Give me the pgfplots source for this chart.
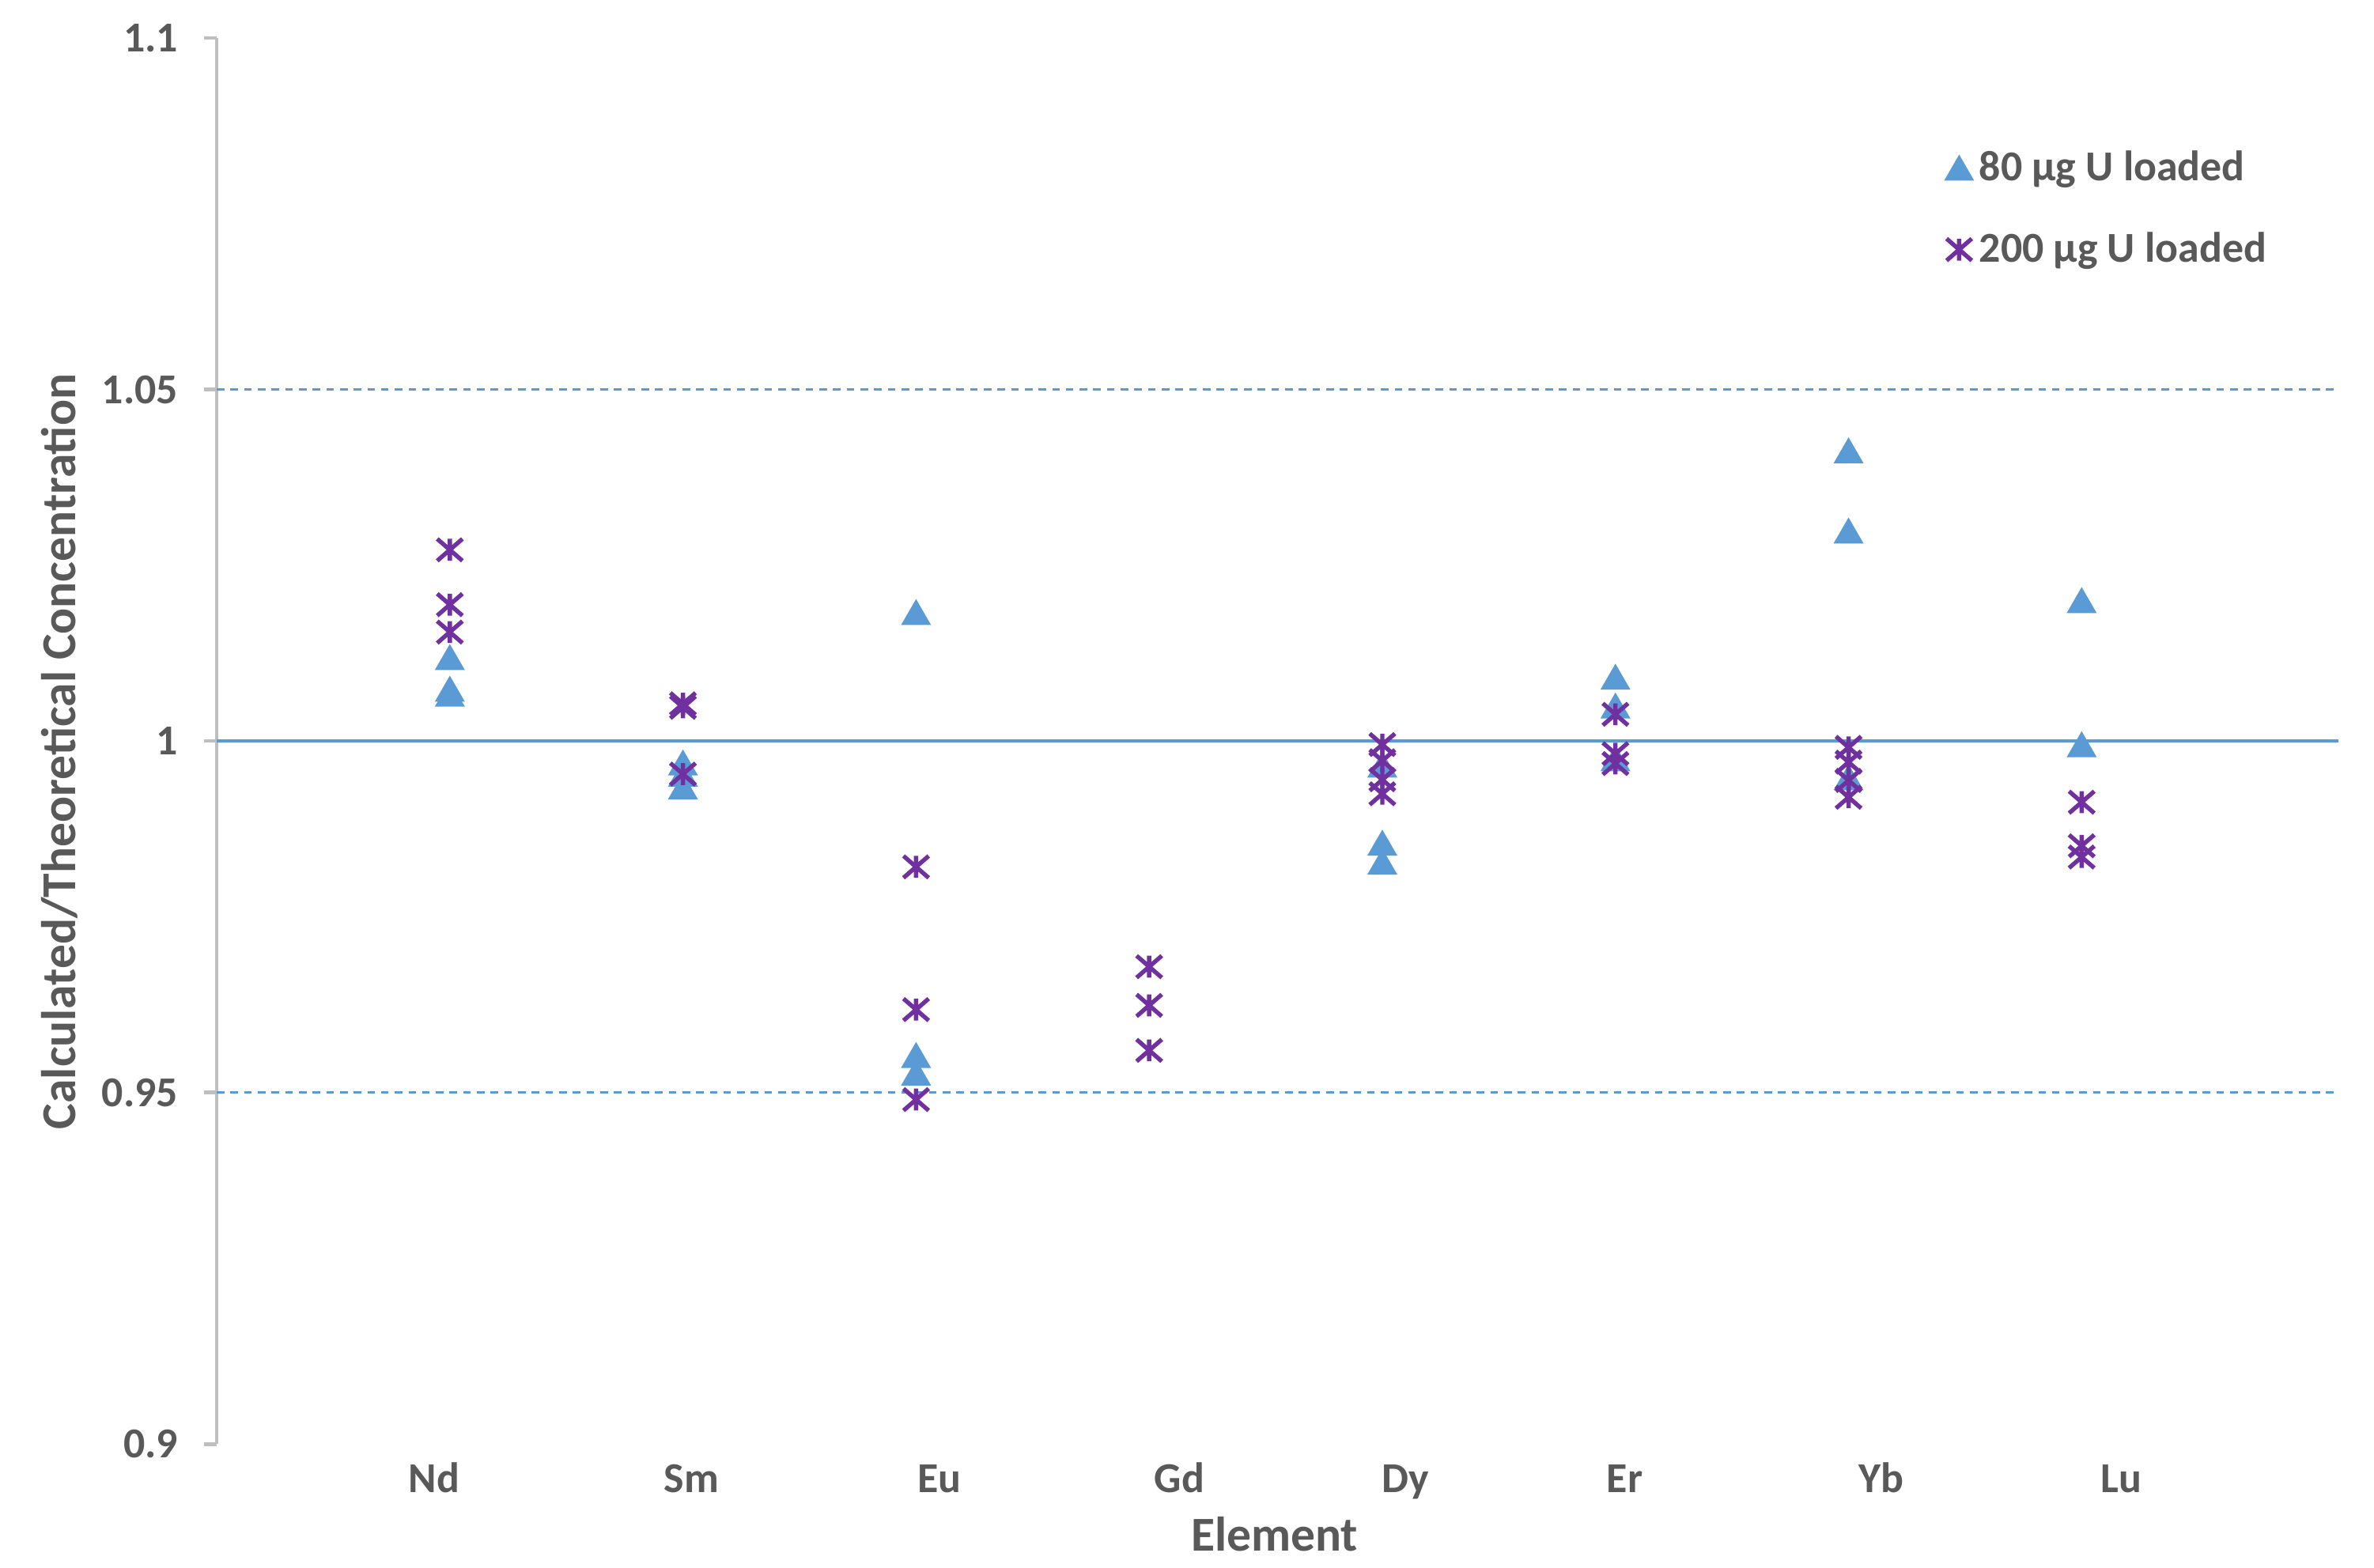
\documentclass[border=0pt]{standalone}
\usepackage{pgfplots}
\pgfplotsset{compat=1.18}
\usepackage{fontspec}
\setmainfont{Carlito}
\definecolor{tri}{HTML}{5B9BD5}
\definecolor{pur}{HTML}{7030A0}
\definecolor{txt}{HTML}{595959}
\definecolor{axg}{HTML}{BFBFBF}
\pgfdeclareplotmark{xstar}{%
  \pgfpathmoveto{\pgfqpoint{-1.15\pgfplotmarksize}{-\pgfplotmarksize}}%
  \pgfpathlineto{\pgfqpoint{1.15\pgfplotmarksize}{\pgfplotmarksize}}%
  \pgfpathmoveto{\pgfqpoint{-1.15\pgfplotmarksize}{\pgfplotmarksize}}%
  \pgfpathlineto{\pgfqpoint{1.15\pgfplotmarksize}{-\pgfplotmarksize}}%
  \pgfpathmoveto{\pgfqpoint{0pt}{-\pgfplotmarksize}}%
  \pgfpathlineto{\pgfqpoint{0pt}{\pgfplotmarksize}}%
  \pgfusepathqstroke}
\newcommand{\chartfont}{\fontsize{14}{16}\selectfont\bfseries}
\newcommand{\titlefont}{\fontsize{16}{18}\selectfont\bfseries}
\begin{document}
\begin{tikzpicture}
\begin{axis}[name=ax, scale only axis, width=697pt, height=462pt,
  clip=false,
  xmin=0, xmax=9.1, ymin=0.9, ymax=1.1,
  axis lines*=left,
  x axis line style={draw=none},
  y axis line style={draw=axg, line width=1.2pt},
  ytick={0.9,0.95,1,1.05,1.1}, yticklabels={0.9,0.95,1,1.05,1.1},
  ytick style={draw=axg, line width=1.2pt},
  tick align=outside, major tick length=4.2pt,
  xtick={0.933,2.036,3.100,4.130,5.100,6.040,7.140,8.170},
  xticklabels={Nd,Sm,Eu,Gd,Dy,Er,Yb,Lu},
  xtick style={draw=none},
  tick label style={font=\chartfont, text=txt},
  yticklabel style={xshift=-5pt},
  xticklabel style={anchor=base, yshift=-11.6pt},
  xlabel={Element}, ylabel={Calculated/Theoretical Concentration},
  label style={font=\titlefont, text=txt},
  xlabel style={at={(axis description cs:0.4986,-0.0758)}, anchor=base},
  ylabel style={at={(axis description cs:-0.0742,0.4925)}, anchor=center},
  legend style={at={(axis description cs:0.8145,0.9246)}, anchor=north west,
    draw=none, fill=none, inner sep=0pt, row sep=11.5pt,
    font=\chartfont, text=txt, cells={anchor=west}},
  legend image code/.code={\draw[#1] plot coordinates {(0pt,0pt)};},
]
\addplot[forget plot, tri, line width=1pt] coordinates {(0,1) (9.1,1)};
\addplot[forget plot, tri, line width=0.8pt, dash pattern=on 2.5pt off 2pt] coordinates {(0,1.05) (9.1,1.05)};
\addplot[forget plot, tri, line width=0.8pt, dash pattern=on 2.5pt off 2pt] coordinates {(0,0.95) (9.1,0.95)};

\addplot[only marks, mark=triangle*, mark size=5.3pt, color=tri,
  mark options={draw=none, fill=tri, yshift=-1.3pt}] coordinates {
  (1,1.0119) (1,1.0074) (1,1.0067)
  (2,0.9969) (2,0.9953) (2,0.9935)
  (3,1.0183) (3,0.9553) (3,0.9528)
  (5,0.9966) (5,0.9855) (5,0.9828)
  (6,1.0091) (6,1.0050) (6,0.9975)
  (7,1.0413) (7,1.0299) (7,0.9948)
  (8,1.0200) (8,0.9995)
};
\addlegendentry{80 µg U loaded}

\addplot[only marks, mark=xstar, mark size=3.6pt, color=pur,
  mark options={line width=1.4pt}] coordinates {
  (1,1.0272) (1,1.0194) (1,1.0155)
  (2,1.0053) (2,1.0048) (2,0.9953)
  (3,0.9821) (3,0.9618) (3,0.9490)
  (4,0.9679) (4,0.9624) (4,0.9560)
  (5,0.9995) (5,0.9972) (5,0.9945) (5,0.9925)
  (6,1.0038) (6,0.9982) (6,0.9968)
  (7,0.9991) (7,0.9970) (7,0.9944) (7,0.9920)
  (8,0.9913) (8,0.9851) (8,0.9835)
};
\addlegendentry{200 µg U loaded}
\end{axis}
\pgfresetboundingbox
\path ([xshift=-71.2pt,yshift=-40.5pt]ax.south west) rectangle ([xshift=11.8pt,yshift=12.5pt]ax.north east);
\end{tikzpicture}
\end{document}
